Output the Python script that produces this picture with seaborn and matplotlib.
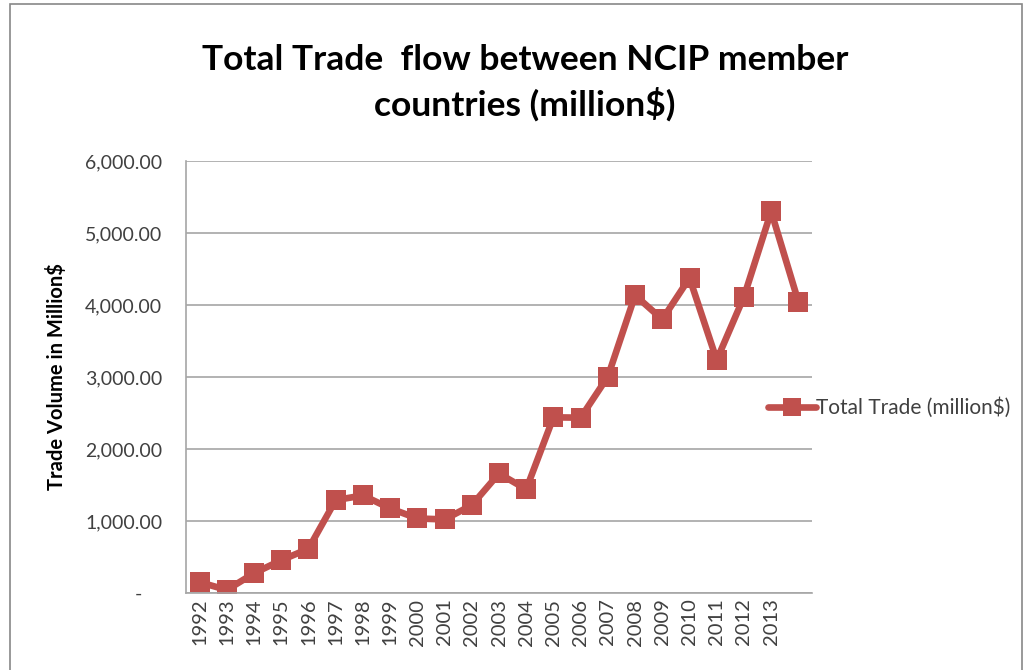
import numpy as np
import pandas as pd
import matplotlib
matplotlib.use("Agg")
import matplotlib.pyplot as plt
import seaborn as sns
from matplotlib.patches import Rectangle

# Data
categories = ["1992", "1993", "1994", "1995", "1996", "1997", "1998", "1999",
              "2000", "2001", "2002", "2003", "2004", "2005", "2006", "2007",
              "2008", "2009", "2010", "2011", "2012", "2013", ""]
total_trade = [150, 42, 275, 455, 615, 1290, 1355, 1175, 1035, 1022, 1220,
               1660, 1440, 2440, 2435, 3005, 4135, 3800, 4375, 3235, 4115,
               5300, 4045]
y_ticks = [0, 1000, 2000, 3000, 4000, 5000, 6000]

sns.set_theme(style="white")
plt.rcParams['font.family'] = ['Lato', 'DejaVu Sans']

RED = "#C0504D"
GRID = "#A6A6A6"
TXT = "#404040"

fig = plt.figure(figsize=(10.29, 6.70), dpi=100)
ax = fig.add_axes([186/1029, 1 - 593/670, (812-186)/1029, (593-161)/670])

df = pd.DataFrame({"pos": np.arange(len(categories)), "value": total_trade,
                   "series": "Total Trade (million$)"})
sns.lineplot(data=df, x="pos", y="value", hue="series", palette=[RED],
             marker="s", markersize=15, markeredgewidth=0, linewidth=4.8,
             ax=ax, legend=True)

ax.set_xlim(-0.5, len(categories) - 0.5)
ax.set_ylim(0, 6000)
ax.set_yticks(y_ticks)
ax.set_yticklabels([f"{v:,.2f}" if v else "-    " for v in y_ticks],
                   fontsize=14, color=TXT)
ax.set_xticks(np.arange(len(categories) - 1))
ax.set_xticklabels(categories[:-1], rotation=90, fontsize=14.5, color=TXT)
ax.tick_params(axis="both", length=0)
ax.tick_params(axis="y", pad=17)
ax.tick_params(axis="x", pad=4)
ax.yaxis.grid(True, color=GRID, linewidth=1.2)
ax.xaxis.grid(False)
for s in ["top", "right"]:
    ax.spines[s].set_visible(False)
for s in ["left", "bottom"]:
    ax.spines[s].set_color(GRID)
    ax.spines[s].set_linewidth(1.2)
ax.set_xlabel("")
ax.set_ylabel("Trade Volume in Million$", fontsize=14.5, fontweight="bold",
              color="black")
ax.yaxis.set_label_coords(-0.19, 0.5)

leg = ax.legend(loc="center left", bbox_to_anchor=(758/1029, 1 - 408/670),
                bbox_transform=fig.transFigure, frameon=False, fontsize=15,
                handlelength=2.3, handletextpad=0.0, borderpad=0)
leg.get_lines()[0].set_markersize(13)
for t in leg.get_texts():
    t.set_color(TXT)

fig.text(525/1029, 1 - 83/670, "Total Trade  flow between NCIP member\ncountries (million$)",
         ha="center", va="center", fontsize=25.5, fontweight="bold",
         color="black", linespacing=1.4)

fig.patches.append(Rectangle((10/1029, -0.1), 1012/1029, 1.1 - 4/670,
                             transform=fig.transFigure, fill=False,
                             edgecolor="#888888", linewidth=1.2))

fig.savefig("out.png", dpi=100)
